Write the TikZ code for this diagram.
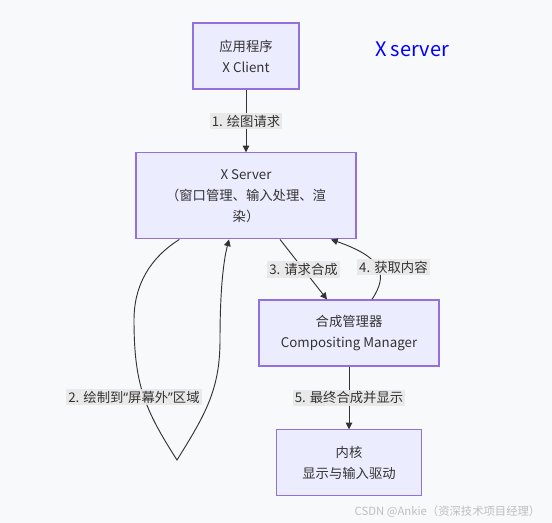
\documentclass[tikz,border=0pt]{standalone}
\usepackage{fontspec}
\setmainfont{Noto Sans CJK SC}
\newfontfamily\latinquote{Noto Sans}
\usetikzlibrary{arrows.meta,positioning}
\definecolor{cBg}{HTML}{F8F9FA}
\definecolor{cBox}{HTML}{ECECFF}
\definecolor{cBorder}{HTML}{9370DB}
\definecolor{cLine}{HTML}{333333}
\definecolor{cLabel}{HTML}{E8E8E8}
\definecolor{cTitle}{HTML}{0000FF}

\begin{document}
\begin{tikzpicture}[
    x=0.75pt, y=-0.75pt,
    font=\fontsize{10}{15.75}\selectfont,
    node distance=47pt,
    box/.style={draw=cBorder, fill=cBox, line width=0.9pt, align=center, minimum height=49.5pt, inner sep=2pt, text=cLine},
    arr/.style={-{Triangle[length=5pt,width=5pt]}, line width=0.7pt, draw=cLine},
    lbl/.style={fill=cLabel, fill opacity=0.9, text opacity=1, inner sep=1.5pt, text=cLine}
]
\fill[cBg] (0,0) rectangle (552,523);
\useasboundingbox (0,0) rectangle (552,523);

\node[box, minimum width=79.5pt] (app) at (246,56) {应用程序\\X Client};
\node[font=\fontsize{15}{18}\selectfont, text=cTitle] (title) at (412,49) {X server};
\node[box, minimum width=165pt, minimum height=64.5pt, below=of app] (xs) {X Server\\（窗口管理、输入处理、渲\\染）};
\node[box, minimum width=135pt] (comp) at (349,333) {合成管理器\\Compositing Manager};
\node[box, minimum width=109pt, below=of comp] (kernel) {内核\\显示与输入驱动};
\coordinate (loop) at (177,460);

\draw[arr] (app) -- node[lbl] (l1) {1. 绘图请求} (xs);
\draw[arr] ([xshift=-50pt]xs.south) .. controls (150,258) and (134,285) .. (134,320) .. controls (134,385) and (145,410) .. (loop) .. controls (205,415) and (220,390) .. (220,340) .. controls (220,280) and (225,255) .. ([xshift=-12.75pt]xs.south);
\node[lbl] (l2) at (134,397) {2. 绘制到{\latinquote“}屏幕外{\latinquote”}区域};
\draw[arr] ([xshift=25.5pt]xs.south) -- node[lbl] (l3) {3. 请求合成} ([xshift=-16.5pt]comp.north);
\draw[arr] ([xshift=17.25pt]comp.north) .. controls (388,275) and (384,258) .. node[lbl, xshift=12pt] (l4) {4. 获取内容} ([xshift=63.75pt]xs.south);
\draw[arr] (comp) -- node[lbl] (l5) {5. 最终合成并显示} (kernel);

\node[text=black!25, font=\fontsize{8.5}{10}\selectfont, anchor=east] (mark) at (545,512) {CSDN @Ankie（资深技术项目经理）};
\end{tikzpicture}
\end{document}
